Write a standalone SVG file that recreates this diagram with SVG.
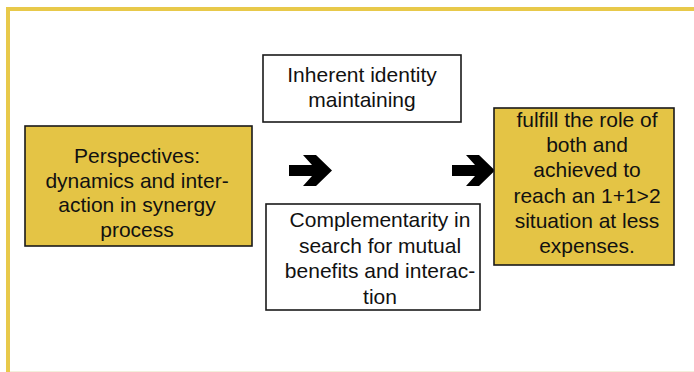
<svg xmlns="http://www.w3.org/2000/svg" width="694" height="372" viewBox="0 0 694 372">
<style>
.frame{stroke:#E8C94A;stroke-width:4;fill:none}
.box{stroke:#1a1a1a;stroke-width:1.6}
.yel{fill:#E4C445}
.wht{fill:#ffffff}
text{font-family:"Liberation Sans",Arial,Helvetica,sans-serif;font-size:21px;fill:#111;text-anchor:middle}
.arrow{fill:#000}
</style>
<defs>
<path id="arr" d="M0,10 L23,10 L14,0 L27,0 L43,15.5 L27,31 L14,31 L23,21 L0,21 Z"/>
</defs>
<rect width="694" height="372" fill="#ffffff"/>
<g id="frame">
<line class="frame" x1="6" y1="9" x2="694" y2="9"/>
<line class="frame" x1="8" y1="7" x2="8" y2="372"/>
<line x1="10" y1="371.5" x2="694" y2="371.5" stroke="#F2F0DC" stroke-width="1"/>
</g>
<g id="connectors">
<use href="#arr" class="arrow" x="289" y="155"/>
<use href="#arr" class="arrow" x="452" y="155"/>
</g>
<g id="perspectives">
<rect class="box yel" x="25" y="126" width="227" height="120"/>
<text x="137" y="163">Perspectives:</text>
<text x="137" y="187.5">dynamics and inter-</text>
<text x="137" y="212">action in synergy</text>
<text x="137" y="236.5">process</text>
</g>
<g id="identity">
<rect class="box wht" x="263" y="55" width="198" height="67"/>
<text x="362" y="82">Inherent identity</text>
<text x="362" y="107">maintaining</text>
</g>
<g id="complementarity">
<rect class="box wht" x="266" y="204" width="214" height="106"/>
<text x="380" y="227">Complementarity in</text>
<text x="380" y="252.5">search for mutual</text>
<text x="380" y="278">benefits and interac-</text>
<text x="380" y="303.5">tion</text>
</g>
<g id="result">
<rect class="box yel" x="494" y="108" width="180" height="157"/>
<text x="587" y="126.7">fulfill the role of</text>
<text x="587" y="152">both and</text>
<text x="587" y="177.3">achieved to</text>
<text x="587" y="202.7">reach an 1+1&gt;2</text>
<text x="587" y="228">situation at less</text>
<text x="587" y="253">expenses.</text>
</g>
</svg>
